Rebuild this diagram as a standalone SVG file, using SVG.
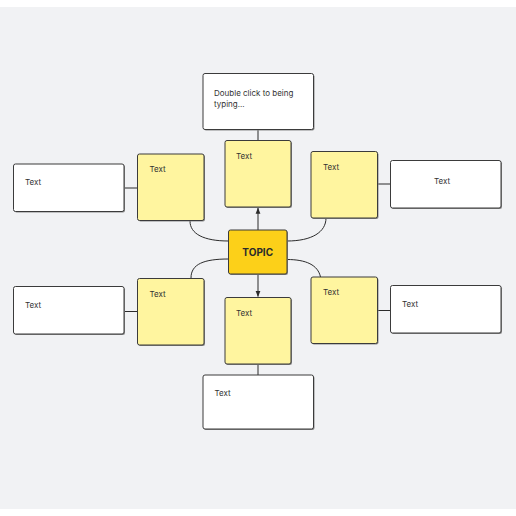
<svg xmlns="http://www.w3.org/2000/svg" width="516" height="516" viewBox="0 0 516 516">
<defs>
<style>
.note{fill:#fff59f;stroke:#3b3b3b;stroke-width:1}
.card{fill:#ffffff;stroke:#3b3b3b;stroke-width:1}
.shadow{fill:#8a8a8a}
.topic{fill:#fcd019;stroke:#3b3b3b;stroke-width:1}
.t{font-family:"Inter","Noto Sans","Liberation Sans",sans-serif;font-size:8px;fill:#333333}
.tt{font-family:"Inter","Noto Sans","Liberation Sans",sans-serif;font-size:10px;font-weight:700;fill:#2b2b2b}
.conn{fill:none;stroke:#2b2b2b;stroke-width:1}
</style>
<marker id="arr" viewBox="0 0 8 8" refX="7.5" refY="4" markerWidth="6" markerHeight="6" orient="auto" markerUnits="userSpaceOnUse">
<path d="M0,0.8 L8,4 L0,7.2 Z" fill="#2b2b2b"/>
</marker>
</defs>
<rect x="0" y="0" width="516" height="516" fill="#ffffff"/>
<rect x="0" y="7" width="516" height="502" fill="#f1f2f4"/>

<g id="connectors">
<path class="conn" d="M258,129.5 L258,140.5"/>
<path class="conn" d="M258,364 L258,375"/>
<path class="conn" d="M258,230 L258,208" marker-end="url(#arr)"/>
<path class="conn" d="M258,274 L258,296.5" marker-end="url(#arr)"/>
<path class="conn" d="M190,221 C190,234 204,241 228.5,241"/>
<path class="conn" d="M326,218 C326,232 312,241 287,241"/>
<path class="conn" d="M228.5,259 C204,259 191,264 191,278"/>
<path class="conn" d="M287,259.5 C306,259.5 318,265 320.5,277"/>
<path class="conn" d="M124,188 L137.5,188"/>
<path class="conn" d="M124,311.5 L137.5,311.5"/>
<path class="conn" d="M378,184 L390,184"/>
<path class="conn" d="M378,310.5 L390,310.5"/>
</g>

<g id="topic">
<rect class="shadow" x="229.5" y="231" width="58.5" height="44" rx="2"/>
<rect class="topic" x="228.5" y="230" width="58.5" height="44" rx="2"/>
<text class="tt" x="257.7" y="255.5" text-anchor="middle">TOPIC</text>
</g>

<g id="note-top">
<rect class="shadow" x="226" y="141.5" width="66" height="66.5" rx="2"/>
<rect class="note" x="225" y="140.5" width="66" height="66.5" rx="2"/>
<text class="t" x="236" y="159">Text</text>
</g>
<g id="note-upper-left">
<rect class="shadow" x="138.5" y="155" width="66.5" height="66.5" rx="2"/>
<rect class="note" x="137.5" y="154" width="66.5" height="66.5" rx="2"/>
<text class="t" x="149.5" y="172">Text</text>
</g>
<g id="note-upper-right">
<rect class="shadow" x="312" y="152.5" width="66.5" height="66.5" rx="2"/>
<rect class="note" x="311" y="151.5" width="66.5" height="66.5" rx="2"/>
<text class="t" x="323" y="170">Text</text>
</g>
<g id="note-lower-left">
<rect class="shadow" x="138.5" y="279.5" width="66.5" height="66.5" rx="2"/>
<rect class="note" x="137.5" y="278.5" width="66.5" height="66.5" rx="2"/>
<text class="t" x="149.5" y="296.5">Text</text>
</g>
<g id="note-lower-right">
<rect class="shadow" x="312" y="278" width="66.5" height="66.5" rx="2"/>
<rect class="note" x="311" y="277" width="66.5" height="66.5" rx="2"/>
<text class="t" x="323" y="294.5">Text</text>
</g>
<g id="note-bottom">
<rect class="shadow" x="226" y="298.5" width="66" height="66.5" rx="2"/>
<rect class="note" x="225" y="297.5" width="66" height="66.5" rx="2"/>
<text class="t" x="236" y="315.5">Text</text>
</g>

<g id="card-top">
<rect class="shadow" x="204" y="74.5" width="110.5" height="56" rx="2"/>
<rect class="card" x="203" y="73.5" width="110.5" height="56" rx="2"/>
<text class="t" x="214" y="95.5">Double click to being</text>
<text class="t" x="214" y="106.5">typing...</text>
</g>
<g id="card-bottom">
<rect class="shadow" x="204" y="376" width="110.5" height="54" rx="2"/>
<rect class="card" x="203" y="375" width="110.5" height="54" rx="2"/>
<text class="t" x="214.5" y="395.5">Text</text>
</g>
<g id="card-left-upper">
<rect class="shadow" x="14.5" y="165" width="110.5" height="47.5" rx="2"/>
<rect class="card" x="13.5" y="164" width="110.5" height="47.5" rx="2"/>
<text class="t" x="25" y="185">Text</text>
</g>
<g id="card-left-lower">
<rect class="shadow" x="14.5" y="287.5" width="110.5" height="47.5" rx="2"/>
<rect class="card" x="13.5" y="286.5" width="110.5" height="47.5" rx="2"/>
<text class="t" x="25" y="307.5">Text</text>
</g>
<g id="card-right-upper">
<rect class="shadow" x="391.5" y="161.5" width="110.5" height="47.5" rx="2"/>
<rect class="card" x="390.5" y="160.5" width="110.5" height="47.5" rx="2"/>
<text class="t" x="434" y="183.5">Text</text>
</g>
<g id="card-right-lower">
<rect class="shadow" x="391.5" y="286.5" width="110.5" height="47.5" rx="2"/>
<rect class="card" x="390.5" y="285.5" width="110.5" height="47.5" rx="2"/>
<text class="t" x="402" y="307">Text</text>
</g>
</svg>
